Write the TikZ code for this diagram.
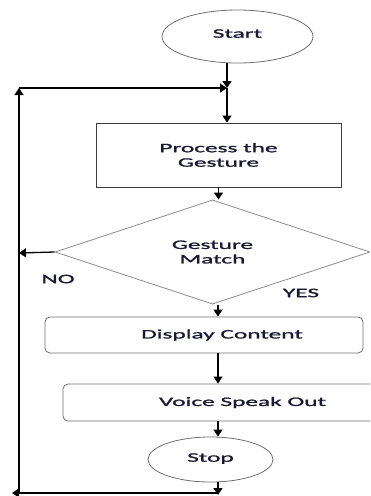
\documentclass[tikz,border=0pt]{standalone}
\usepackage{fontspec}
\setmainfont{Carlito}[FakeStretch=1.95,FakeBold=1.3]
\usetikzlibrary{shapes.geometric,arrows.meta}
\definecolor{txtnavy}{RGB}{25,25,50}
\definecolor{edgegray}{RGB}{110,110,110}
\definecolor{edgedark}{RGB}{60,60,60}
\definecolor{edgelight}{RGB}{140,140,140}
\tikzset{
  flowtext/.style={font=\fontsize{13}{14.5}\selectfont,text=txtnavy,align=center},
  flowline/.style={line width=1.3pt,-{Triangle[length=7pt,width=9pt]}},
  termbox/.style={flowtext,ellipse,draw=edgegray,line width=0.8pt,inner sep=0pt},
  procbox/.style={flowtext,rectangle,draw=edgedark,line width=0.9pt,inner sep=0pt},
  decbox/.style={flowtext,diamond,draw=edgelight,line width=0.8pt,inner sep=0pt},
  roundbox/.style={flowtext,rectangle,rounded corners=5pt,draw=edgegray,line width=0.8pt,inner sep=0pt}
}
\begin{document}
\begin{tikzpicture}[x=1pt,y=-1pt]
\clip (0,0) rectangle (370,496);
% flow boxes
\node[termbox,minimum width=151pt,minimum height=53pt] (start) at (237.5,36.5) {\raisebox{6pt}{Start}};
\node[procbox,minimum width=245pt,minimum height=64pt] (proc) at (218.5,155) {Process the\\Gesture};
\node[decbox,minimum width=315pt,minimum height=71pt] (dia) at (212.5,252) {Gesture\\Match};
\node[roundbox,minimum width=318pt,minimum height=36pt] (disp) at (204,335) {\hspace*{36pt}Display Content};
\node[roundbox,minimum width=359pt,minimum height=37pt] (voice) at (242.5,402.5) {Voice Speak Out};
\node[termbox,minimum width=125pt,minimum height=45pt] (stop) at (210.5,459.5) {\raisebox{4pt}{Stop}};
% branch labels
\node[flowtext] (no) at (58,279) {NO};
\node[flowtext] (yes) at (301,293) {YES};
% loop points
\coordinate (join) at (227,88);
\coordinate (bot) at (218,495);
\coordinate (lbot) at (12,493);
\coordinate (lcorner) at (19,493);
\coordinate (ltop) at (19,88);
\coordinate (nol) at (19,253);
% main arrows
\draw[flowline] (start.south -| join) -- (join);
\draw[flowline] (join) -- (join |- proc.north);
\draw[flowline] (proc.south) -- (proc.south |- dia.north);
\draw[flowline] (dia.south -| bot) -- (disp.north -| bot);
\draw[flowline] (disp.south -| bot) -- (voice.north -| bot);
\draw[flowline] (voice.south -| bot) -- (stop.north -| bot);
\draw[flowline] (stop.south -| bot) -- (bot);
% no branch and return loop
\draw[flowline] (dia.west) -- (nol);
\draw[flowline] (bot |- lbot) -- (lbot);
\draw[flowline] (lcorner) -- (ltop);
\draw[flowline] (ltop) -- (join);
\end{tikzpicture}
\end{document}
